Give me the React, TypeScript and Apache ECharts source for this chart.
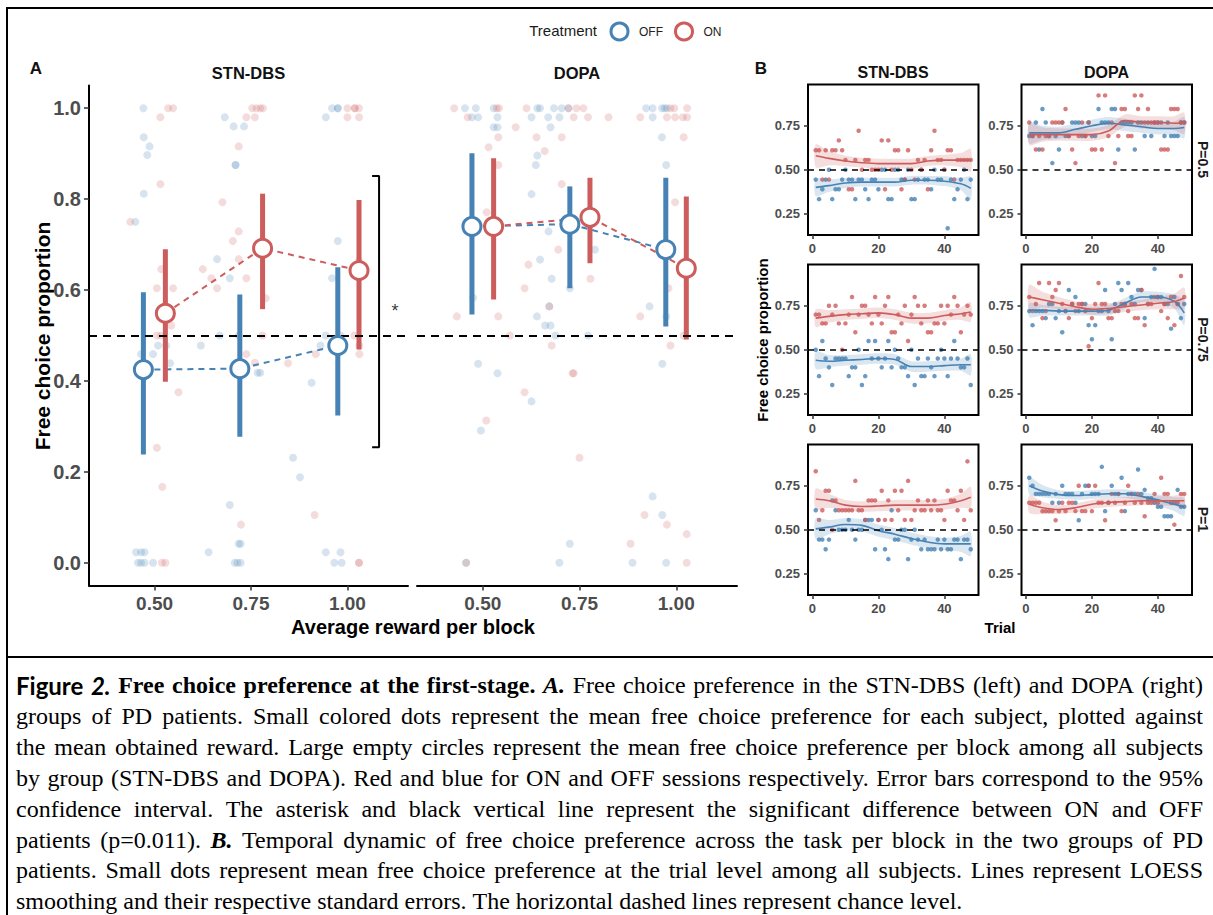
import React, { useEffect, useRef } from "react";
import * as echarts from "echarts";

const OFF_COLOR = "#4682B4";
const ON_COLOR = "#CD5C5C";
const OFF_DOT = "rgba(70,130,180,0.27)";
const ON_DOT = "rgba(205,92,92,0.27)";
const OFF_BAND = "rgba(70,130,180,0.2)";
const ON_BAND = "rgba(205,92,92,0.2)";

// ---------- Panel A : summary (mean obtained reward, mean preference, 95% CI) ----------
const stnOffX = [0.471, 0.721, 0.975];
const stnOffMean = [0.425, 0.427, 0.478];
const stnOffLow = [0.238, 0.277, 0.324];
const stnOffHigh = [0.595, 0.59, 0.65];
const stnOnX = [0.528, 0.78, 1.03];
const stnOnMean = [0.549, 0.692, 0.643];
const stnOnLow = [0.398, 0.558, 0.469];
const stnOnHigh = [0.69, 0.812, 0.798];

const dopaOffX = [0.472, 0.725, 0.973];
const dopaOffMean = [0.74, 0.745, 0.689];
const dopaOffLow = [0.546, 0.604, 0.52];
const dopaOffHigh = [0.901, 0.828, 0.847];
const dopaOnX = [0.528, 0.777, 1.026];
const dopaOnMean = [0.74, 0.76, 0.648];
const dopaOnLow = [0.579, 0.659, 0.491];
const dopaOnHigh = [0.89, 0.847, 0.806];

// ---------- Panel A : individual subjects [reward, preference] ----------
const stnOffDots = [
  [0.471, 1.0], [0.682, 0.98], [0.705, 0.96], [0.732, 0.96], [0.944, 0.98], [0.96, 1.0], [0.975, 1.0], [0.975, 1.0],
  [0.472, 0.936], [0.487, 0.916], [0.481, 0.897], [0.71, 0.875], [0.71, 0.875], [0.472, 0.812], [0.45, 0.75],
  [0.662, 0.668], [0.695, 0.626], [0.975, 0.708], [0.96, 0.626], [0.465, 0.459], [0.496, 0.459], [0.509, 0.478],
  [0.53, 0.478], [0.54, 0.439], [0.62, 0.478], [0.669, 0.5], [0.718, 0.5], [0.767, 0.418], [0.774, 0.418],
  [0.907, 0.396], [0.93, 0.478], [0.944, 0.5], [0.982, 0.5], [0.859, 0.231], [0.877, 0.188], [0.695, 0.127],
  [0.718, 0.042], [0.723, 0.042], [0.64, 0.023], [0.452, 0.023], [0.465, 0.023], [0.474, 0.023], [0.457, 0],
  [0.465, 0], [0.474, 0], [0.496, 0], [0.708, 0], [0.715, 0], [0.723, 0], [0.944, 0.023], [0.982, 0.023],
  [0.966, 0], [0.985, 0],
];
const stnOnDots = [
  [0.515, 0.98], [0.535, 1.0], [0.548, 1.0], [0.738, 0.98], [0.76, 0.98], [0.753, 1], [0.764, 1], [0.774, 1],
  [0.781, 1], [0.718, 0.916], [0.515, 0.833], [0.437, 0.75], [0.676, 0.793], [0.718, 0.729], [0.703, 0.708],
  [0.517, 0.646], [0.506, 0.604], [0.548, 0.604], [0.625, 0.646], [0.647, 0.626], [0.662, 0.604], [0.718, 0.668],
  [0.738, 0.626], [0.788, 0.582], [1.0, 0.98], [1.03, 0.98], [1.0, 1.0], [1.019, 1], [1.019, 1], [1.03, 1],
  [1.03, 0.665], [0.506, 0.5], [0.517, 0.5], [0.543, 0.522], [0.562, 0.375], [0.506, 0.253], [0.52, 0.167],
  [0.519, 0], [0.528, 0], [0.738, 0.459], [0.76, 0.44], [0.78, 0.5], [0.846, 0.439], [0.918, 0.459],
  [1.018, 0.5], [1.031, 0.478], [1.031, 0.459], [0.724, 0.084], [0.915, 0.105], [1.03, 0], [1.03, 0],
];
const dopaOffDots = [
  [0.454, 1], [0.482, 1], [0.528, 1], [0.641, 1], [0.648, 1], [0.684, 1], [0.704, 1], [0.721, 1], [0.922, 1],
  [0.939, 1], [0.963, 1], [0.97, 1], [0.976, 1], [0.472, 0.98], [0.488, 0.98], [0.538, 0.98], [0.626, 0.98],
  [0.669, 0.98], [0.698, 0.98], [0.939, 0.98], [0.528, 0.958], [0.538, 0.958], [0.675, 0.958], [0.963, 0.936],
  [0.641, 0.896], [0.637, 0.875], [0.974, 0.875], [0.626, 0.811], [0.67, 0.729], [0.79, 0.689], [0.648, 0.667],
  [0.678, 0.625], [0.725, 0.604], [0.475, 0.583], [0.672, 0.564], [0.931, 0.564], [0.64, 0.542], [0.974, 0.542],
  [0.661, 0.522], [0.675, 0.522], [0.688, 0.5], [0.772, 0.5], [0.488, 0.438], [0.964, 0.438], [0.538, 0.417],
  [0.626, 0.355], [0.495, 0.291], [0.939, 0.146], [0.964, 0.105], [0.725, 0.042], [0.457, 0], [0.698, 0],
  [0.887, 0], [0.974, 0],
];
const dopaOnDots = [
  [0.426, 1], [0.536, 1], [0.542, 1], [0.613, 1], [0.722, 1], [0.742, 1], [0.76, 1], [0.985, 1], [0.995, 1],
  [1.028, 1], [0.461, 0.98], [0.735, 0.98], [0.772, 0.98], [0.825, 0.98], [0.907, 0.98], [0.976, 0.98],
  [0.997, 0.98], [1.017, 0.98], [1.028, 0.98], [0.585, 0.958], [0.54, 0.936], [0.639, 0.936], [0.704, 0.936],
  [1.019, 0.936], [0.515, 0.914], [0.66, 0.906], [0.54, 0.875], [0.704, 0.833], [0.997, 0.793], [0.51, 0.771],
  [0.695, 0.689], [0.618, 0.656], [0.778, 0.625], [0.608, 0.604], [0.98, 0.604], [0.672, 0.564], [0.433, 0.542],
  [0.54, 0.542], [0.907, 0.542], [0.57, 0.5], [1.019, 0.5], [0.678, 0.478], [0.985, 0.478], [0.732, 0.417],
  [0.735, 0.417], [0.608, 0.375], [0.509, 0.313], [0.75, 0.231], [0.918, 0.105], [0.976, 0.084],
  [1.027, 0.063], [0.882, 0.042], [0.457, 0], [1.027, 0],
];

// significance bracket and asterisk (in STN-DBS data coordinates)
const bracketPoints = [[1.064, 0.851], [1.082, 0.851], [1.082, 0.254], [1.064, 0.254]];
const asteriskPoint = [[1.123, 0.553]];

// ---------- Panel B : trial-level mean preference ----------
const trials = Array.from({ length: 48 }, (_, i) => i + 1);

const stnP05On = [0.611, 0.611, 0.444, 0.611, 0.444, 0.611, 0.611, 0.667, 0.611, 0.556, 0.389, 0.389, 0.556, 0.722, 0.5, 0.556, 0.556, 0.5, 0.5, 0.5, 0.667, 0.389, 0.667, 0.5, 0.611, 0.611, 0.389, 0.444, 0.611, 0.5, 0.444, 0.556, 0.5, 0.556, 0.389, 0.611, 0.722, 0.556, 0.556, 0.5, 0.611, 0.611, 0.444, 0.556, 0.556, 0.556, 0.556, 0.556];
const stnP05Off = [0.444, 0.333, 0.389, 0.444, 0.5, 0.333, 0.389, 0.389, 0.444, 0.5, 0.444, 0.444, 0.333, 0.444, 0.444, 0.389, 0.333, 0.444, 0.444, 0.389, 0.5, 0.5, 0.333, 0.333, 0.5, 0.5, 0.444, 0.444, 0.5, 0.333, 0.333, 0.444, 0.5, 0.444, 0.444, 0.389, 0.5, 0.444, 0.444, 0.5, 0.167, 0.444, 0.333, 0.389, 0.444, 0.5, 0.333, 0.444];
const dopaP05On = [0.769, 0.692, 0.615, 0.692, 0.615, 0.692, 0.692, 0.769, 0.769, 0.769, 0.769, 0.846, 0.692, 0.615, 0.538, 0.692, 0.769, 0.692, 0.769, 0.615, 0.615, 0.923, 0.615, 0.923, 0.692, 0.769, 0.538, 0.692, 0.846, 0.846, 0.692, 0.692, 0.923, 0.846, 0.923, 0.769, 0.846, 0.769, 0.769, 0.769, 0.615, 0.615, 0.615, 0.846, 0.846, 0.846, 0.769, 0.769];
const dopaP05Off = [0.692, 0.692, 0.769, 0.615, 0.846, 0.769, 0.692, 0.538, 0.692, 0.615, 0.769, 0.692, 0.692, 0.769, 0.769, 0.769, 0.692, 0.692, 0.769, 0.692, 0.692, 0.846, 0.769, 0.769, 0.769, 0.846, 0.846, 0.615, 0.769, 0.769, 0.769, 0.769, 0.615, 0.769, 0.769, 0.692, 0.769, 0.692, 0.769, 0.769, 0.769, 0.692, 0.769, 0.692, 0.692, 0.692, 0.769, 0.769];
const stnP075On = [0.7, 0.7, 0.65, 0.65, 0.75, 0.7, 0.75, 0.65, 0.5, 0.65, 0.7, 0.8, 0.6, 0.7, 0.75, 0.75, 0.7, 0.65, 0.8, 0.7, 0.65, 0.75, 0.8, 0.6, 0.6, 0.7, 0.65, 0.75, 0.55, 0.7, 0.8, 0.75, 0.65, 0.75, 0.6, 0.6, 0.65, 0.65, 0.75, 0.65, 0.75, 0.7, 0.8, 0.75, 0.6, 0.7, 0.75, 0.7];
const stnP075Off = [0.5, 0.35, 0.55, 0.45, 0.4, 0.3, 0.45, 0.45, 0.45, 0.45, 0.35, 0.4, 0.4, 0.5, 0.3, 0.35, 0.55, 0.45, 0.55, 0.45, 0.4, 0.45, 0.55, 0.4, 0.5, 0.45, 0.4, 0.4, 0.35, 0.5, 0.3, 0.45, 0.35, 0.35, 0.45, 0.4, 0.35, 0.45, 0.5, 0.45, 0.35, 0.45, 0.55, 0.45, 0.4, 0.4, 0.45, 0.3];
const dopaP075On = [0.8, 0.72, 0.76, 0.88, 0.68, 0.72, 0.88, 0.8, 0.84, 0.88, 0.76, 0.72, 0.68, 0.76, 0.72, 0.76, 0.76, 0.72, 0.52, 0.68, 0.76, 0.88, 0.76, 0.76, 0.68, 0.68, 0.72, 0.72, 0.76, 0.76, 0.72, 0.76, 0.68, 0.68, 0.84, 0.64, 0.76, 0.76, 0.8, 0.8, 0.72, 0.76, 0.68, 0.8, 0.64, 0.76, 0.92, 0.8];
const dopaP075Off = [0.72, 0.64, 0.72, 0.72, 0.72, 0.68, 0.76, 0.76, 0.68, 0.72, 0.6, 0.72, 0.84, 0.76, 0.8, 0.72, 0.76, 0.76, 0.64, 0.56, 0.64, 0.72, 0.72, 0.84, 0.72, 0.56, 0.76, 0.88, 0.84, 0.76, 0.88, 0.8, 0.76, 0.84, 0.84, 0.68, 0.76, 0.8, 0.96, 0.8, 0.8, 0.76, 0.76, 0.62, 0.8, 0.76, 0.68, 0.76];
const stnP1On = [0.833, 0.556, 0.611, 0.722, 0.722, 0.5, 0.667, 0.611, 0.611, 0.611, 0.611, 0.611, 0.778, 0.611, 0.611, 0.556, 0.667, 0.667, 0.667, 0.556, 0.722, 0.556, 0.667, 0.556, 0.722, 0.611, 0.722, 0.556, 0.778, 0.556, 0.611, 0.667, 0.611, 0.611, 0.667, 0.611, 0.667, 0.611, 0.611, 0.556, 0.722, 0.667, 0.667, 0.611, 0.722, 0.556, 0.889, 0.611];
const stnP1Off = [0.611, 0.444, 0.444, 0.389, 0.444, 0.667, 0.611, 0.5, 0.5, 0.5, 0.556, 0.5, 0.444, 0.5, 0.5, 0.556, 0.556, 0.556, 0.389, 0.556, 0.5, 0.389, 0.333, 0.611, 0.444, 0.444, 0.5, 0.5, 0.333, 0.444, 0.5, 0.444, 0.389, 0.444, 0.389, 0.389, 0.389, 0.444, 0.389, 0.444, 0.389, 0.389, 0.444, 0.444, 0.333, 0.444, 0.444, 0.389];
const dopaP1On = [0.654, 0.654, 0.654, 0.654, 0.606, 0.606, 0.606, 0.606, 0.554, 0.606, 0.654, 0.606, 0.654, 0.654, 0.606, 0.75, 0.606, 0.606, 0.75, 0.606, 0.75, 0.654, 0.654, 0.554, 0.654, 0.704, 0.654, 0.704, 0.606, 0.654, 0.75, 0.704, 0.654, 0.704, 0.654, 0.577, 0.654, 0.654, 0.704, 0.654, 0.796, 0.704, 0.704, 0.654, 0.529, 0.654, 0.704, 0.704];
const dopaP1Off = [0.796, 0.75, 0.704, 0.704, 0.704, 0.704, 0.704, 0.654, 0.704, 0.654, 0.75, 0.704, 0.704, 0.704, 0.654, 0.554, 0.704, 0.75, 0.75, 0.704, 0.704, 0.704, 0.858, 0.606, 0.654, 0.75, 0.704, 0.704, 0.796, 0.606, 0.704, 0.704, 0.704, 0.843, 0.704, 0.727, 0.679, 0.679, 0.654, 0.631, 0.631, 0.577, 0.577, 0.577, 0.654, 0.727, 0.631, 0.631];

// LOESS fits (read at these trials) and half-widths of their standard-error bands
const loessT = [1, 5, 10, 15, 20, 25, 30, 35, 40, 45, 48];
const stnP05OnFit = [0.58, 0.565, 0.55, 0.54, 0.535, 0.535, 0.535, 0.55, 0.555, 0.555, 0.555];
const stnP05OnSe = [0.065, 0.04, 0.03, 0.028, 0.028, 0.028, 0.028, 0.028, 0.03, 0.04, 0.065];
const stnP05OffFit = [0.4, 0.41, 0.425, 0.43, 0.43, 0.43, 0.44, 0.44, 0.435, 0.42, 0.395];
const stnP05OffSe = [0.05, 0.035, 0.028, 0.025, 0.025, 0.025, 0.025, 0.025, 0.028, 0.035, 0.065];
const dopaP05OnFit = [0.7, 0.7, 0.7, 0.7, 0.7, 0.72, 0.78, 0.77, 0.77, 0.765, 0.765];
const dopaP05OnSe = [0.06, 0.04, 0.035, 0.035, 0.035, 0.035, 0.035, 0.035, 0.035, 0.04, 0.06];
const dopaP05OffFit = [0.71, 0.71, 0.71, 0.73, 0.75, 0.765, 0.755, 0.745, 0.735, 0.735, 0.74];
const dopaP05OffSe = [0.06, 0.04, 0.035, 0.035, 0.035, 0.035, 0.035, 0.035, 0.035, 0.04, 0.06];
const stnP075OnFit = [0.68, 0.69, 0.7, 0.705, 0.71, 0.7, 0.68, 0.68, 0.695, 0.705, 0.715];
const stnP075OnSe = [0.05, 0.035, 0.03, 0.03, 0.03, 0.03, 0.03, 0.03, 0.03, 0.035, 0.055];
const stnP075OffFit = [0.44, 0.435, 0.44, 0.445, 0.45, 0.445, 0.405, 0.405, 0.41, 0.415, 0.415];
const stnP075OffSe = [0.05, 0.035, 0.03, 0.03, 0.03, 0.03, 0.03, 0.03, 0.03, 0.035, 0.06];
const dopaP075OnFit = [0.8, 0.785, 0.765, 0.745, 0.73, 0.735, 0.745, 0.755, 0.765, 0.775, 0.795];
const dopaP075OnSe = [0.07, 0.045, 0.035, 0.03, 0.03, 0.03, 0.03, 0.03, 0.035, 0.045, 0.06];
const dopaP075OffFit = [0.725, 0.725, 0.72, 0.72, 0.72, 0.725, 0.765, 0.8, 0.8, 0.775, 0.71];
const dopaP075OffSe = [0.04, 0.03, 0.025, 0.025, 0.025, 0.03, 0.03, 0.03, 0.03, 0.04, 0.07];
const stnP1OnFit = [0.675, 0.665, 0.64, 0.632, 0.635, 0.64, 0.64, 0.64, 0.645, 0.665, 0.685];
const stnP1OnSe = [0.06, 0.04, 0.03, 0.03, 0.03, 0.03, 0.03, 0.03, 0.03, 0.04, 0.06];
const stnP1OffFit = [0.505, 0.515, 0.53, 0.525, 0.495, 0.475, 0.45, 0.43, 0.42, 0.42, 0.42];
const stnP1OffSe = [0.06, 0.04, 0.035, 0.035, 0.035, 0.035, 0.035, 0.035, 0.035, 0.045, 0.07];
const dopaP1OnFit = [0.645, 0.625, 0.615, 0.625, 0.645, 0.655, 0.66, 0.665, 0.665, 0.665, 0.665];
const dopaP1OnSe = [0.05, 0.035, 0.025, 0.025, 0.025, 0.025, 0.025, 0.025, 0.025, 0.03, 0.04];
const dopaP1OffFit = [0.75, 0.72, 0.7, 0.695, 0.7, 0.705, 0.705, 0.69, 0.67, 0.645, 0.63];
const dopaP1OffSe = [0.05, 0.035, 0.025, 0.025, 0.025, 0.025, 0.025, 0.025, 0.03, 0.04, 0.05];

// tick labels
const aXTicks = [0.5, 0.75, 1.0];
const aYTicks = [0, 0.2, 0.4, 0.6, 0.8, 1.0];
const bXTicks = [0, 20, 40];
const bYTicks = [0.25, 0.5, 0.75];
const stripLabels = ["P=0.5", "P=0.75", "P=1"];

const captionLines: [string, string][][] = [
  [["Figure", "fig"], ["2.", "figi"], ["Free choice preference at the first-stage.", "b"], ["A.", "bi"], ["Free choice preference in the STN-DBS (left) and DOPA (right)", "n"]],
  [["groups of PD patients. Small colored dots represent the mean free choice preference for each subject, plotted against", "n"]],
  [["the mean obtained reward. Large empty circles represent the mean free choice preference per block among all subjects", "n"]],
  [["by group (STN-DBS and DOPA). Red and blue for ON and OFF sessions respectively. Error bars correspond to the 95%", "n"]],
  [["confidence interval. The asterisk and black vertical line represent the significant difference between ON and OFF", "n"]],
  [["patients (p=0.011).", "n"], ["B.", "bi"], ["Temporal dynamic of free choice preference across the task per block in the two groups of PD", "n"]],
  [["patients. Small dots represent mean free choice preference at the trial level among all subjects. Lines represent LOESS", "n"]],
  [["smoothing and their respective standard errors. The horizontal dashed lines represent chance level.", "n"]],
];

const SANS = "'Liberation Sans', Arial, sans-serif";
const SERIF = "'Liberation Serif', 'Times New Roman', serif";

function fontFor(style: string, size: number) {
  switch (style) {
    case "fig": return `bold ${size}px Lato, sans-serif`;
    case "figi": return `italic bold ${size}px Lato, sans-serif`;
    case "b": return `bold ${size}px ${SERIF}`;
    case "bi": return `italic bold ${size}px ${SERIF}`;
    default: return `${size}px ${SERIF}`;
  }
}

function buildCaption(): any[] {
  const canvas = document.createElement("canvas");
  const ctx = canvas.getContext("2d")!;
  const measure = (t: string, f: string) => { ctx.font = f; return ctx.measureText(t).width; };
  const X0 = 16, W = 1187, Y0 = 685, LH = 30.9;
  const lines = captionLines.map((segs) => {
    const words: { t: string; s: string }[] = [];
    segs.forEach(([t, s]) => t.split(" ").forEach((w) => words.push({ t: w, s })));
    return words;
  });
  let fs = 24;
  lines.slice(0, -1).forEach((words) => {
    const w100 = words.reduce((a, w) => a + measure(w.t, fontFor(w.s, 100)), 0) / 100;
    const need = w100 + (words.length - 1) * 0.24;
    fs = Math.min(fs, W / need);
  });
  const els: any[] = [];
  lines.forEach((words, li) => {
    const widths = words.map((w) => measure(w.t, fontFor(w.s, fs)));
    const sum = widths.reduce((a, b) => a + b, 0);
    const last = li === lines.length - 1;
    const gap = last ? measure(" ", fontFor("n", fs)) : (W - sum) / (words.length - 1);
    let x = X0;
    words.forEach((w, i) => {
      els.push({
        type: "text", x, y: Y0 + li * LH, silent: true,
        style: { text: w.t, font: fontFor(w.s, fs), fill: "#000", textVerticalAlign: "middle", textAlign: "left" },
      });
      x += widths[i] + gap;
    });
  });
  return els;
}

const App: React.FC = () => {
  const ref = useRef<HTMLDivElement>(null);

  useEffect(() => {
    if (!ref.current) return;
    const chart = echarts.init(ref.current, undefined, { renderer: "svg" });

    const grids: any[] = [
      { left: 89, top: 85.5, width: 319, height: 500 },
      { left: 417, top: 85.5, width: 320, height: 500 },
    ];
    const bCols = [808, 1021.5];
    const bRows = [84.5, 264.5, 444.5];
    bRows.forEach((top) => bCols.forEach((left) => grids.push({
      left, top, width: 170.5, height: 150.5, show: true, borderColor: "#000", borderWidth: 2, backgroundColor: "transparent",
    })));

    const tickLabel = (size: number) => ({ fontSize: size, fontWeight: "bold", color: "#4D4D4D", fontFamily: SANS });

    const xAxes: any[] = [];
    const yAxes: any[] = [];
    [0, 1].forEach((g) => {
      xAxes.push({
        type: "value", gridIndex: g, min: 0.33, max: 1.157,
        axisLine: { show: true, onZero: false, lineStyle: { color: "#000", width: 2 } },
        axisTick: { show: true, customValues: aXTicks, length: 5, lineStyle: { color: "#333", width: 1.5 } },
        axisLabel: { customValues: aXTicks, formatter: (v: number) => v.toFixed(2), margin: 8, ...tickLabel(19) },
        splitLine: { show: false },
      });
      yAxes.push({
        type: "value", gridIndex: g, min: -0.05, max: 1.05, show: g === 0,
        axisLine: { show: true, onZero: false, lineStyle: { color: "#000", width: 2 } },
        axisTick: { show: true, customValues: aYTicks, length: 5, lineStyle: { color: "#333", width: 1.5 } },
        axisLabel: { customValues: aYTicks, formatter: (v: number) => v.toFixed(1), margin: 8, ...tickLabel(20) },
        splitLine: { show: false },
      });
    });
    for (let g = 2; g < 8; g++) {
      xAxes.push({
        type: "value", gridIndex: g, min: -1.35, max: 50.35,
        axisLine: { show: false, onZero: false },
        axisTick: { show: true, customValues: bXTicks, length: 4, lineStyle: { color: "#333", width: 1.5 } },
        axisLabel: { customValues: bXTicks, formatter: (v: number) => String(v), margin: 7, ...tickLabel(13) },
        splitLine: { show: false },
      });
      yAxes.push({
        type: "value", gridIndex: g, min: 0.129, max: 0.985,
        axisLine: { show: false, onZero: false },
        axisTick: { show: true, customValues: bYTicks, length: 4, lineStyle: { color: "#333", width: 1.5 } },
        axisLabel: { customValues: bYTicks, formatter: (v: number) => v.toFixed(2), margin: 8, ...tickLabel(13) },
        splitLine: { show: false },
      });
    }

    const series: any[] = [];
    const chanceLine = (width: number, dash: number[]) => ({
      silent: true, symbol: ["none", "none"], label: { show: false },
      lineStyle: { color: "#000", type: dash, width }, data: [{ yAxis: 0.5 }],
    });

    const panelA = (g: number, offDots: number[][], onDots: number[][],
      offX: number[], offMean: number[], offLow: number[], offHigh: number[],
      onX: number[], onMean: number[], onLow: number[], onHigh: number[]) => {
      series.push({ type: "scatter", name: "OFF subjects", xAxisIndex: g, yAxisIndex: g, data: offDots, symbolSize: 8, itemStyle: { color: OFF_DOT }, z: 1, silent: true });
      series.push({ type: "scatter", name: "ON subjects", xAxisIndex: g, yAxisIndex: g, data: onDots, symbolSize: 8, itemStyle: { color: ON_DOT }, z: 1, silent: true });
      series.push({
        type: "line", name: "chance", xAxisIndex: g, yAxisIndex: g, data: [], markLine: chanceLine(2, [8, 6]), z: 2,
      });
      const groups: [string, string, number[], number[], number[], number[]][] = [
        ["OFF", OFF_COLOR, offX, offMean, offLow, offHigh],
        ["ON", ON_COLOR, onX, onMean, onLow, onHigh],
      ];
      groups.forEach(([name, color, xs, mean]) => {
        series.push({
          type: "line", name: name + " trend", xAxisIndex: g, yAxisIndex: g, data: xs.map((x, i) => [x, mean[i]]),
          symbol: "none", lineStyle: { color, width: 2, type: [6, 5] }, z: 3, silent: true,
        });
      });
      groups.forEach(([name, color, xs, mean, low, high]) => {
        series.push({
          type: "custom", name: name + " CI", xAxisIndex: g, yAxisIndex: g, z: 4, silent: true,
          data: xs.map((x, i) => [x, low[i], high[i]]),
          encode: { x: 0, y: [1, 2] },
          renderItem: (_p: any, api: any) => {
            const a = api.coord([api.value(0), api.value(1)]);
            const b = api.coord([api.value(0), api.value(2)]);
            return { type: "line", shape: { x1: a[0], y1: a[1], x2: b[0], y2: b[1] }, style: { stroke: color, lineWidth: 5 } };
          },
        });
        series.push({
          type: "scatter", name, xAxisIndex: g, yAxisIndex: g, data: xs.map((x, i) => [x, mean[i]]),
          symbolSize: 18, itemStyle: { color: "#fff", borderColor: color, borderWidth: 3, opacity: 1 }, z: 5, silent: true,
        });
      });
    };

    panelA(0, stnOffDots, stnOnDots, stnOffX, stnOffMean, stnOffLow, stnOffHigh, stnOnX, stnOnMean, stnOnLow, stnOnHigh);
    panelA(1, dopaOffDots, dopaOnDots, dopaOffX, dopaOffMean, dopaOffLow, dopaOffHigh, dopaOnX, dopaOnMean, dopaOnLow, dopaOnHigh);

    // bracket + asterisk
    series.push({
      type: "line", name: "bracket", xAxisIndex: 0, yAxisIndex: 0, data: bracketPoints, symbol: "none",
      lineStyle: { color: "#000", width: 2 }, z: 6, silent: true, clip: false,
    });
    series.push({
      type: "scatter", name: "asterisk", xAxisIndex: 0, yAxisIndex: 0, data: asteriskPoint, symbolSize: 1,
      itemStyle: { color: "rgba(0,0,0,0)" }, z: 6, silent: true, clip: false,
      label: { show: true, position: "inside", formatter: "*", fontSize: 18, color: "#000", fontFamily: SANS },
    });

    const panelB = (g: number, off: number[], on: number[], offFit: number[], offSe: number[], onFit: number[], onSe: number[]) => {
      series.push({ type: "scatter", name: "OFF trials", xAxisIndex: g, yAxisIndex: g, data: trials.map((t, i) => [t, off[i]]), symbolSize: 4.5, itemStyle: { color: OFF_COLOR }, z: 1, silent: true });
      series.push({ type: "scatter", name: "ON trials", xAxisIndex: g, yAxisIndex: g, data: trials.map((t, i) => [t, on[i]]), symbolSize: 4.5, itemStyle: { color: ON_COLOR }, z: 1, silent: true });
      const fits: [string, string, string, number[], number[]][] = [
        ["OFF", OFF_COLOR, OFF_BAND, offFit, offSe],
        ["ON", ON_COLOR, ON_BAND, onFit, onSe],
      ];
      fits.forEach(([name, color, band, fit, se]) => {
        series.push({
          type: "custom", name: name + " band", xAxisIndex: g, yAxisIndex: g, z: 2, silent: true,
          data: [[loessT[0], fit[0]]],
          renderItem: (_p: any, api: any) => {
            const up = loessT.map((t, i) => api.coord([t, fit[i] + se[i]]));
            const lo = loessT.map((t, i) => api.coord([t, fit[i] - se[i]])).reverse();
            return { type: "polygon", shape: { points: up.concat(lo), smooth: 0.25 }, style: { fill: band, stroke: "none" } };
          },
        });
      });
      fits.forEach(([name, color, band, fit]) => {
        series.push({
          type: "line", name: name + " loess", xAxisIndex: g, yAxisIndex: g, data: loessT.map((t, i) => [t, fit[i]]),
          smooth: 0.35, symbol: "none", lineStyle: { color, width: 1.6 }, z: 3, silent: true,
        });
      });
      series.push({ type: "line", name: "chance", xAxisIndex: g, yAxisIndex: g, data: [], markLine: chanceLine(1.6, [6, 5]), z: 4 });
    };

    panelB(2, stnP05Off, stnP05On, stnP05OffFit, stnP05OffSe, stnP05OnFit, stnP05OnSe);
    panelB(3, dopaP05Off, dopaP05On, dopaP05OffFit, dopaP05OffSe, dopaP05OnFit, dopaP05OnSe);
    panelB(4, stnP075Off, stnP075On, stnP075OffFit, stnP075OffSe, stnP075OnFit, stnP075OnSe);
    panelB(5, dopaP075Off, dopaP075On, dopaP075OffFit, dopaP075OffSe, dopaP075OnFit, dopaP075OnSe);
    panelB(6, stnP1Off, stnP1On, stnP1OffFit, stnP1OffSe, stnP1OnFit, stnP1OnSe);
    panelB(7, dopaP1Off, dopaP1On, dopaP1OffFit, dopaP1OffSe, dopaP1OnFit, dopaP1OnSe);

    const txt = (text: string, x: number, y: number, size: number, opts: any = {}) => ({
      type: "text", x, y, rotation: opts.rotation || 0, silent: true,
      style: {
        text, fontSize: size, fontWeight: opts.weight || "bold", fontFamily: SANS, fill: opts.color || "#111",
        textAlign: opts.align || "center", textVerticalAlign: "middle",
      },
    });

    const graphic: any[] = [
      // frame
      { type: "line", silent: true, shape: { x1: 6, y1: 8, x2: 1213, y2: 8 }, style: { stroke: "#000", lineWidth: 2 } },
      { type: "line", silent: true, shape: { x1: 7, y1: 7, x2: 7, y2: 915 }, style: { stroke: "#000", lineWidth: 2 } },
      { type: "line", silent: true, shape: { x1: 6, y1: 657, x2: 1213, y2: 657 }, style: { stroke: "#000", lineWidth: 2 } },
      txt("Treatment", 597, 30.5, 15, { weight: "normal", align: "right", color: "#1a1a1a" }),
      txt("A", 36, 68, 17),
      txt("B", 761, 68, 17),
      txt("STN-DBS", 248.5, 72.5, 16.5),
      txt("DOPA", 577, 72.5, 16.5),
      txt("STN-DBS", 893, 72, 16),
      txt("DOPA", 1106.5, 72, 16),
      txt("Free choice proportion", 42, 336, 21, { rotation: Math.PI / 2, color: "#000" }),
      txt("Average reward per block", 413, 627, 20, { color: "#000" }),
      txt("Free choice proportion", 762, 340, 15, { rotation: Math.PI / 2, color: "#000" }),
      txt("Trial", 1000, 627, 15, { color: "#000" }),
      ...stripLabels.map((s, i) => txt(s, 1203, bRows[i] + 75, 14, { rotation: -Math.PI / 2, color: "#1a1a1a" })),
      ...buildCaption(),
    ];

    chart.setOption({
      animation: false,
      backgroundColor: "#fff",
      grid: grids,
      xAxis: xAxes,
      yAxis: yAxes,
      legend: {
        show: true, left: 609.5, top: 21.5, padding: 0, orient: "horizontal", itemWidth: 17, itemHeight: 17, itemGap: 11,
        selectedMode: false,
        textStyle: { fontSize: 12, color: "#222", fontFamily: SANS, padding: [0, 0, 0, 6] },
        data: [
          { name: "OFF", icon: "circle", itemStyle: { color: "#fff", borderColor: OFF_COLOR, borderWidth: 3 } },
          { name: "ON", icon: "circle", itemStyle: { color: "#fff", borderColor: ON_COLOR, borderWidth: 3 } },
        ],
      },
      series,
      graphic,
    });

    return () => chart.dispose();
  }, []);

  return (
    <div
      ref={ref}
      style={{ position: "absolute", left: 0, top: 0, width: 1213, height: 915, background: "#fff" }}
    />
  );
};

export default App;
